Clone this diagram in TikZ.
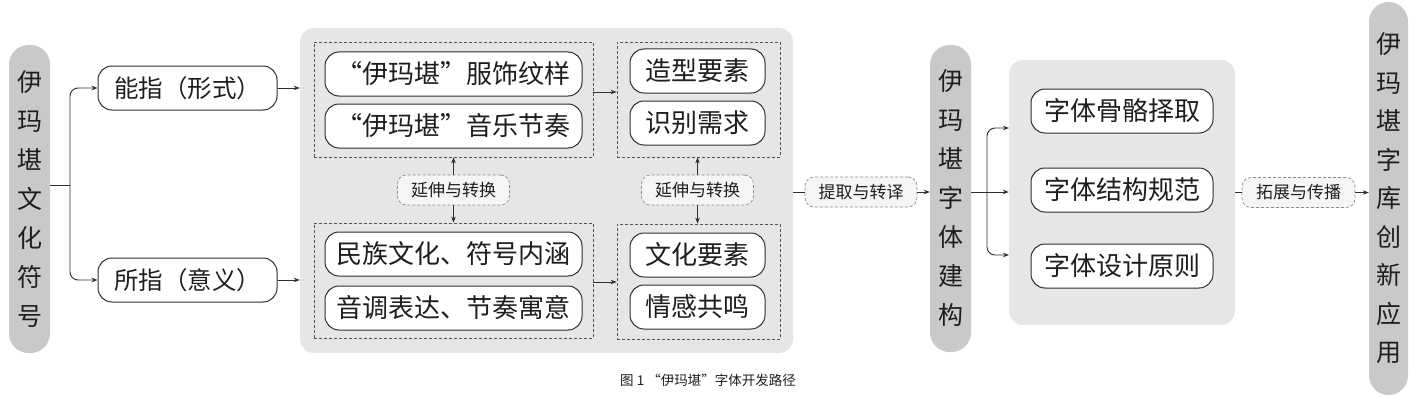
\documentclass[tikz,border=0pt]{standalone}
\usepackage{fontspec}
\setmainfont{Noto Sans CJK SC}
\usetikzlibrary{arrows.meta}
\definecolor{pillgray}{HTML}{C9C9C9}
\definecolor{panelgray}{HTML}{E6E6E6}
\definecolor{linegray}{HTML}{2E2E2E}
\definecolor{grpgray}{HTML}{555555}
\definecolor{labgray}{HTML}{8A8A8A}
\definecolor{txtgray}{HTML}{1E1E1E}
\begin{document}
\begin{tikzpicture}[x=1pt,y=-1pt,
  pill/.style={fill=pillgray, rounded corners=19.5pt, inner sep=0pt, align=center, text=txtgray,
    font=\fontsize{25}{39}\selectfont},
  panel/.style={fill=panelgray, rounded corners=14pt, inner sep=0pt},
  grp/.style={draw=grpgray, dash pattern=on 3pt off 2pt, line width=0.8pt, inner sep=0pt},
  box/.style={draw=linegray, line width=1pt, fill=white, rounded corners=14pt, minimum height=44pt,
    inner sep=0pt, text=txtgray, font=\fontsize{26}{26}\selectfont},
  lab/.style={draw=labgray, dash pattern=on 3pt off 2pt, line width=0.7pt, fill=white!96!black,
    rounded corners=9pt, minimum width=112pt, minimum height=30pt, inner sep=0pt, text=txtgray,
    font=\fontsize{17}{17}\selectfont},
  arr/.style={draw=linegray, line width=0.9pt, -{Stealth[length=6pt,width=4.5pt]}},
  ln/.style={draw=linegray, line width=0.9pt}
]
\useasboundingbox (0,0) rectangle (1415,396);

% left pill
\node[pill, minimum width=41pt, minimum height=308pt] (p1) at (29.5,199) {伊\\玛\\堪\\文\\化\\符\\号};

% signifier boxes
\node[box, minimum width=179pt, font=\fontsize{24.5}{24.5}\selectfont] (a1) at (187.5,88) {能指（形式）};
\node[box, minimum width=179pt, font=\fontsize{24.5}{24.5}\selectfont] (a2) at (187.5,280) {所指（意义）};

% big panel
\node[panel, minimum width=493pt, minimum height=325pt] (P) at (546.5,190.5) {};

% dashed groups
\node[grp, minimum width=279pt, minimum height=115pt] (G1) at (453.5,99.5) {};
\node[grp, minimum width=163pt, minimum height=115pt] (G2) at (698.5,99.5) {};
\node[grp, minimum width=279pt, minimum height=115pt] (G3) at (453.5,280.5) {};
\node[grp, minimum width=163pt, minimum height=115pt] (G4) at (698.5,281.5) {};

% boxes in groups
\node[box, minimum width=257pt] (b1) at (453.5,74) {“伊玛堪”服饰纹样};
\node[box, minimum width=257pt] (b2) at (453.5,126) {“伊玛堪”音乐节奏};
\node[box, minimum width=135pt] (c1) at (697.5,71) {造型要素};
\node[box, minimum width=135pt] (c2) at (697.5,123) {识别需求};
\node[box, minimum width=257pt] (b3) at (453.5,254) {民族文化、符号内涵};
\node[box, minimum width=257pt] (b4) at (453.5,308) {音调表达、节奏寓意};
\node[box, minimum width=135pt] (c3) at (697.5,255) {文化要素};
\node[box, minimum width=135pt] (c4) at (697.5,307) {情感共鸣};

% labels inside panel
\node[lab] (L1) at (453.5,190) {延伸与转换};
\node[lab] (L2) at (697.5,190) {延伸与转换};

% middle pill
\node[pill, minimum width=41pt, minimum height=307pt] (p2) at (950.5,198.5) {伊\\玛\\堪\\字\\体\\建\\构};

% labels between
\node[lab] (L3) at (861,192) {提取与转译};
\node[lab, minimum width=113pt] (L4) at (1298.5,192.5) {拓展与传播};

% second panel
\node[panel, minimum width=226pt, minimum height=265pt] (Q) at (1122,192.5) {};
\node[box, minimum width=182pt] (d1) at (1122,111) {字体骨骼择取};
\node[box, minimum width=182pt] (d2) at (1122,190) {字体结构规范};
\node[box, minimum width=182pt] (d3) at (1122,266) {字体设计原则};

% right pill
\node[pill, minimum width=39pt, minimum height=393pt, font=\fontsize{25}{38.5}\selectfont] (p3) at (1388.5,198.5) {伊\\玛\\堪\\字\\库\\创\\新\\应\\用};

% caption
\node[text=txtgray, font=\fontsize{13.5}{13.5}\selectfont, inner sep=0pt] (cap) at (708,380) {图 1 “伊玛堪”字体开发路径};

% connectors left
\coordinate (j1) at (70,185);
\draw[ln] (p1.east |- j1) -- (j1);
\draw[arr, rounded corners=8pt] (j1) |- (a1.west);
\draw[arr, rounded corners=8pt] (j1) |- (a2.west);
\draw[arr] (a1.east) -- (a1.east -| P.west);
\draw[arr] (a2.east) -- (a2.east -| P.west);

% group connectors
\draw[arr] ([yshift=7.5pt]G1.east) -- ([yshift=7.5pt]G1.east -| G2.west);
\draw[arr] ([yshift=-1.5pt]G3.east) -- ([yshift=-1.5pt]G3.east -| G4.west);
\draw[arr] (L1.north) -- (L1.north |- G1.south);
\draw[arr] (L1.south) -- (L1.south |- G3.north);
\draw[arr] (L2.north) -- (L2.north |- G2.south);
\draw[arr] (L2.south) -- (L2.south |- G4.north);

% to middle pill
\draw[ln] (L3.west -| P.east) -- (L3.west);
\draw[arr] (L3.east) -- (L3.east -| p2.west);

% from middle pill
\coordinate (j2) at (987,192);
\coordinate (q1) at (1009,128);
\coordinate (q2) at (1009,255);
\draw[ln] (p2.east |- j2) -- (j2);
\draw[arr] (j2) -- (j2 -| Q.west);
\draw[arr, rounded corners=8pt] (j2) |- (q1);
\draw[arr, rounded corners=8pt] (j2) |- (q2);

% to right pill
\draw[ln] (L4.west -| Q.east) -- (L4.west);
\draw[arr] (L4.east) -- (L4.east -| p3.west);
\end{tikzpicture}
\end{document}
